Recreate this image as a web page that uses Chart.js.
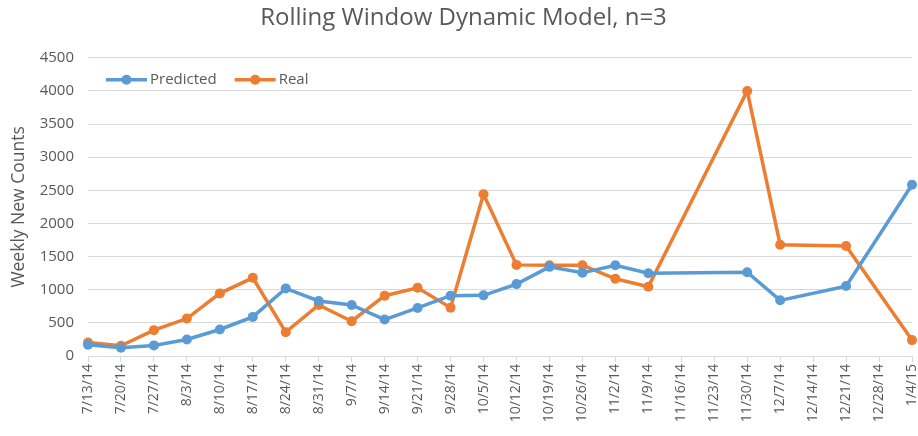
<!DOCTYPE html>
<html>
<head>
<meta charset="utf-8">
<script src="https://cdn.jsdelivr.net/npm/chart.js@4"></script>
<style>
  html, body { margin: 0; padding: 0; background: #fff; }
  #wrap { width: 918px; height: 436px; }
</style>
</head>
<body>
<div id="wrap"><canvas id="myChart" width="918" height="436"></canvas></div>
<script>
// 横轴上的日期
const weeks = [
  "7/13/14", "7/20/14", "7/27/14", "8/3/14", "8/10/14", "8/17/14", "8/24/14",
  "8/31/14", "9/7/14", "9/14/14", "9/21/14", "9/28/14", "10/5/14", "10/12/14",
  "10/19/14", "10/26/14", "11/2/14", "11/9/14", "11/16/14", "11/23/14",
  "11/30/14", "12/7/14", "12/14/14", "12/21/14", "12/28/14", "1/4/15",
];
const predicted = [
  170, 125, 160, 250, 400, 590, 1020, 830, 770, 550, 725, 910, 915, 1085,
  1345, 1255, 1370, 1250, null, null, 1265, 840, null, 1055, null, 2585,
];
const real = [
  205, 155, 390, 565, 945, 1180, 360, 770, 525, 910, 1030, 730, 2440, 1375,
  1370, 1370, 1165, 1045, null, null, 4000, 1680, null, 1660, null, 240,
];
const yTicks = [0, 500, 1000, 1500, 2000, 2500, 3000, 3500, 4000, 4500];

const BLUE = "#5B9BD5";
const ORANGE = "#ED7D31";
const GREY = "#595959";
const FONT = "'Open Sans', 'Noto Sans', sans-serif";

// 图例画在绘图区内左上角
const insideLegend = {
  id: "insideLegend",
  afterDraw(chart) {
    const g = chart.ctx;
    const area = chart.chartArea;
    let x = area.left + 18;
    const y = area.top + 22;
    g.save();
    g.font = "15px " + FONT;
    g.textBaseline = "middle";
    chart.data.datasets.forEach((ds) => {
      g.strokeStyle = ds.borderColor;
      g.fillStyle = ds.borderColor;
      g.lineWidth = 3.5;
      g.beginPath();
      g.moveTo(x, y);
      g.lineTo(x + 41, y);
      g.stroke();
      g.beginPath();
      g.arc(x + 20.5, y, 5, 0, Math.PI * 2);
      g.fill();
      g.fillStyle = GREY;
      g.fillText(ds.label, x + 44, y);
      x += 44 + g.measureText(ds.label).width + 18;
    });
    g.restore();
  },
};

const ctx = document.getElementById("myChart");
const data = {
  labels: weeks,
  datasets: [
    {
      label: "Predicted",
      data: predicted,
      borderColor: BLUE,
      backgroundColor: BLUE,
      borderWidth: 3.5,
      pointRadius: 5,
      pointBorderWidth: 0,
      spanGaps: true,
      tension: 0,
    },
    {
      label: "Real",
      data: real,
      borderColor: ORANGE,
      backgroundColor: ORANGE,
      borderWidth: 3.5,
      pointRadius: 5,
      pointBorderWidth: 0,
      spanGaps: true,
      tension: 0,
    },
  ],
};

const config = {
  type: "line",
  data: data,
  options: {
    responsive: false,
    animation: false,
    layout: { padding: { left: 9, right: 0, top: 0, bottom: 0 } },
    plugins: {
      title: {
        display: true,
        text: "Rolling Window Dynamic Model, n=3",
        color: GREY,
        font: { family: FONT, size: 24, weight: "normal" },
        padding: { top: 4, bottom: 25 },
      },
      legend: { display: false },
      tooltip: { enabled: false },
    },
    scales: {
      x: {
        offset: false,
        grid: {
          display: true,
          drawOnChartArea: false,
          drawTicks: true,
          tickLength: 6,
          color: "#D9D9D9",
        },
        border: { color: "#D9D9D9", width: 1 },
        ticks: {
          autoSkip: false,
          maxRotation: 90,
          minRotation: 90,
          color: GREY,
          font: { family: FONT, size: 14 },
          padding: 2,
        },
        afterFit(scale) {
          scale.height = 80;
          scale.paddingRight = 6;
        },
      },
      y: {
        min: 0,
        max: 4500,
        afterBuildTicks(scale) {
          scale.ticks = yTicks.map((v) => ({ value: v }));
        },
        grid: { color: "#D9D9D9", lineWidth: 1, drawTicks: false },
        border: { display: false },
        ticks: {
          color: GREY,
          font: { family: FONT, size: 15 },
          padding: 14,
          callback: (v) => String(v),
        },
        title: {
          display: true,
          text: "Weekly New Counts",
          color: GREY,
          font: { family: FONT, size: 17.5 },
          padding: { top: 0, bottom: 0 },
        },
        afterFit(scale) {
          scale.width = 79;
        },
      },
    },
  },
  plugins: [insideLegend],
};
const myChart = new Chart(ctx, config);
</script>
</body>
</html>
